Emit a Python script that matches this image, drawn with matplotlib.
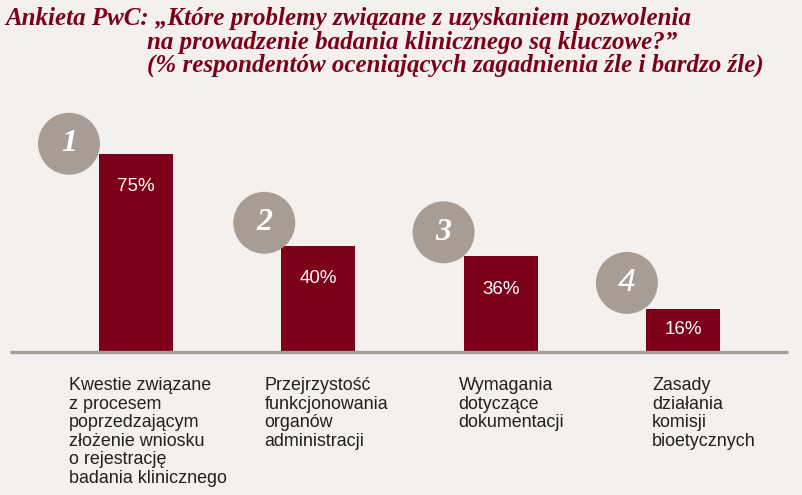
import matplotlib.pyplot as plt
from matplotlib.transforms import offset_copy

# data
categories = [
    "Kwestie związane\nz procesem\npoprzedzającym\nzłożenie wniosku\no rejestrację\nbadania klinicznego",
    "Przejrzystość\nfunkcjonowania\norganów\nadministracji",
    "Wymagania\ndotyczące\ndokumentacji",
    "Zasady\ndziałania\nkomisji\nbioetycznych",
]
values = [75, 40, 36, 16]
value_labels = ["75%", "40%", "36%", "16%"]
ranks = ["1", "2", "3", "4"]

title_lines = [
    "Ankieta PwC: „Które problemy związane z uzyskaniem pozwolenia",
    "na prowadzenie badania klinicznego są kluczowe?”",
    "(% respondentów oceniających zagadnienia źle i bardzo źle)",
]

# style / layout
BG = "#f4f0ed"
BAR = "#7d0019"
GREY = "#a89d95"
TEXT = "#231f20"
W, H = 803, 495
px_x = 182.3          # pixels per category step
px_y = 2.63           # pixels per percent
x0_px = 136           # centre of first bar
base_px = 144         # baseline, pixels from bottom
bar_w = 74 / px_x

circle_off = [(-30, 10), (-17, 23), (-20, 24), (-19, 26)]   # from bar top-left, px
label_dx = [-67, -54, -42, -31]                             # from bar centre, px

fig = plt.figure(figsize=(W / 100, H / 100), dpi=100)
fig.patch.set_facecolor(BG)
ax = fig.add_axes([0, 0, 1, 1])
ax.set_facecolor(BG)
ax.set_xlim(-x0_px / px_x, (W - x0_px) / px_x)
ax.set_ylim(-base_px / px_y, (H - base_px) / px_y)
ax.axis("off")

xs = list(range(len(values)))
ax.bar(xs, values, width=bar_w, color=BAR, zorder=2)
ax.hlines(-0.5, (10 - x0_px) / px_x, (788 - x0_px) / px_x, color=GREY, lw=2.4, zorder=3)

for i, v in enumerate(values):
    # value inside bar
    ty = max(v / 2, v - 33 / px_y)
    ax.text(i, ty, value_labels[i], ha="center", va="center", color="white",
            fontsize=13.5, family="Liberation Sans", zorder=4)

    # numbered circle
    dx, dy = circle_off[i]
    tr = offset_copy(ax.transData, fig=fig, x=dx, y=dy, units="dots")
    ax.scatter([i - bar_w / 2], [v], s=1990, color=GREY, edgecolors="none",
               transform=tr, zorder=5, clip_on=False)
    if ranks[i] == "4":
        fam, wt = "Liberation Sans", "normal"
    else:
        fam, wt = "Liberation Serif", "bold"
    ax.text(i - bar_w / 2, v, ranks[i], transform=tr, ha="center", va="center",
            color="white", fontsize=23, style="italic", weight=wt, family=fam, zorder=6)

    # category label
    tl = offset_copy(ax.transData, fig=fig, x=label_dx[i], y=0, units="dots")
    ax.text(i, -26 / px_y, categories[i], transform=tl, ha="left", va="top",
            color=TEXT, fontsize=12.9, family="Liberation Sans", linespacing=1.12)

# title
title_kw = dict(color=BAR, fontsize=18, style="italic", weight="bold",
                family="Liberation Serif", va="center", ha="left")
fig.text(5 / W, 1 - 18 / H, title_lines[0], **title_kw)
fig.text(147 / W, 1 - 42 / H, title_lines[1], **title_kw)
fig.text(147 / W, 1 - 65 / H, title_lines[2], **title_kw)

fig.savefig("out.png", dpi=100, facecolor=BG)
